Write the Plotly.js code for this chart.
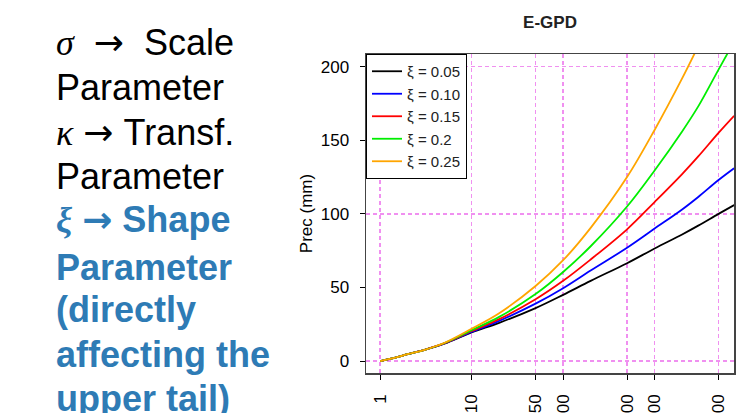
<!DOCTYPE html>
<html>
<head>
<meta charset="utf-8">
<script src="https://cdn.plot.ly/plotly-3.0.1.min.js"></script>
<style>html,body{margin:0;padding:0;background:#fff;}#chart{width:744px;height:413px;}</style>
</head>
<body>
<div id="chart"></div>
<script>
// Return periods (x, log scale)
const returnPeriods = [1, 1.5, 2, 3, 5, 10, 20, 50, 100, 200, 500, 1000, 2000, 3000, 5000, 7400];
// Precipitation return levels (mm) for each shape parameter
const xi005 = [0, 2.5, 4.7, 7.5, 11.8, 19.5, 26, 36, 45, 54.5, 66.5, 76.5, 86, 92, 100, 106];
const xi010 = [0, 2.5, 4.7, 7.5, 11.9, 19.8, 27.3, 39, 49.5, 61.5, 77, 90, 103, 111.5, 123, 131];
const xi015 = [0, 2.5, 4.7, 7.5, 12.0, 20.4, 28.5, 42, 54.5, 69, 89.5, 108, 127, 139, 155, 166.6];
const xi020 = [0, 2.5, 4.7, 7.5, 12.1, 21, 30, 45.5, 60.5, 78, 105, 129.5, 156, 173, 198, 217];
const xi025 = [0, 2.5, 4.7, 7.5, 12.3, 22, 32.5, 51, 68.5, 90.5, 125, 157, 192, 214, null, null];
const seriesNames = ['ξ = 0.05', 'ξ = 0.10', 'ξ = 0.15', 'ξ = 0.2', 'ξ = 0.25'];
const seriesValues = [xi005, xi010, xi015, xi020, xi025];
const seriesColors = ['#000000', '#0000ff', '#ff0000', '#00ee00', '#ffa500'];
const xTickVals = [1, 10, 50, 100, 500, 1000, 5000];
const xTickText = ['1', '10', '50', '100', '500', '1000', '5000'];
const yTickVals = [0, 50, 100, 150, 200];
const yGridVals = [0, 100, 200];

const greek = s => '<i><span style="font-family:\'Liberation Serif\',serif">' + s + '</span></i>';
const arrow = '<span style="font-family:\'DejaVu Sans\',sans-serif">→</span>';
const sideLines = [
  {t: greek('σ') + '&nbsp; ' + arrow + '&nbsp; Scale', c: '#000', b: false},
  {t: 'Parameter', c: '#000', b: false},
  {t: greek('κ') + ' ' + arrow + ' Transf.', c: '#000', b: false},
  {t: 'Parameter', c: '#000', b: false},
  {t: greek('ξ') + ' ' + arrow + ' Shape', c: '#2e7bb5', b: true},
  {t: 'Parameter', c: '#2e7bb5', b: true},
  {t: '(directly', c: '#2e7bb5', b: true},
  {t: 'affecting the', c: '#2e7bb5', b: true},
  {t: 'upper tail)', c: '#2e7bb5', b: true}
];
const sideBaselines = [54.3, 100, 145, 188.3, 231.7, 279.3, 322, 366.7, 411];

const L = 366, R = 10, T = 54, B = 40, W = 744, H = 413;
const pw = W - L - R, ph = H - T - B;
const fs = 36;

const traces = seriesValues.map((v, i) => ({
  x: returnPeriods, y: v, type: 'scatter', mode: 'lines',
  name: seriesNames[i],
  line: {color: seriesColors[i], width: 1.8, shape: 'spline', smoothing: 1},
  connectgaps: false
}));

const annotations = sideLines.map((ln, i) => ({
  xref: 'paper', yref: 'paper',
  x: (54 - L) / pw, xanchor: 'left',
  y: (H - B - (sideBaselines[i] - 0.34 * fs)) / ph, yanchor: 'middle',
  text: ln.b ? '<b>' + ln.t + '</b>' : ln.t,
  showarrow: false, align: 'left',
  font: {family: 'Liberation Sans, Arial, sans-serif', size: fs, color: ln.c}
}));

const gridColor = '#f090f0';
const layout = {
  width: W, height: H,
  margin: {l: L, r: R, t: T, b: B, pad: 0},
  paper_bgcolor: '#fff', plot_bgcolor: '#fff',
  font: {family: 'Liberation Sans, Arial, sans-serif', color: '#000'},
  title: {text: '<b>E-GPD</b>', x: 550 / W, xanchor: 'center', y: 1 - 22 / H, yanchor: 'middle',
          font: {size: 17, family: 'Liberation Sans, Arial, sans-serif', color: '#222'}},
  showlegend: true,
  legend: {x: 0, y: 1, xanchor: 'left', yanchor: 'top', bgcolor: '#fff', bordercolor: '#000', borderwidth: 1,
           font: {size: 15, family: 'Liberation Sans, Arial, sans-serif', color: '#222'},
           tracegroupgap: 0, itemwidth: 30},
  xaxis: {type: 'log', range: [Math.log10(0.7), Math.log10(7380)],
          tickvals: xTickVals, ticktext: xTickText, tickangle: -90,
          ticks: 'outside', ticklen: 5, tickcolor: '#000', tickwidth: 1,
          tickfont: {size: 17, color: '#000'},
          showgrid: true, gridcolor: gridColor, griddash: '4px,3px', gridwidth: 1.6,
          showline: true, linecolor: '#444', linewidth: 1.5, mirror: true,
          zeroline: false, ticklabelstandoff: 8},
  yaxis: {range: [-8.1, 208.6], tickvals: yTickVals,
          ticks: 'outside', ticklen: 5, tickcolor: '#000', tickwidth: 1,
          tickfont: {size: 17, color: '#000'},
          showgrid: false, showline: true, linecolor: '#444', linewidth: 1.5, mirror: true,
          zeroline: false, ticklabelstandoff: 7,
          title: {text: 'Prec (mm)', font: {size: 17, color: '#000'}, standoff: 4}},
  yaxis2: {range: [-8.1, 208.6], overlaying: 'y', side: 'left', tickvals: yGridVals,
           showticklabels: false, ticks: '', showgrid: true, gridcolor: gridColor, griddash: '4px,3px',
           gridwidth: 1.6, zeroline: false, showline: false},
  annotations: annotations
};

// invisible trace to activate the yaxis2 grid
const gridTrace = {x: [returnPeriods[0]], y: [null], yaxis: 'y2', type: 'scatter', mode: 'lines', showlegend: false, hoverinfo: 'skip'};

Plotly.newPlot('chart', [gridTrace].concat(traces), layout, {displayModeBar: false, staticPlot: true});
</script>
</body>
</html>
